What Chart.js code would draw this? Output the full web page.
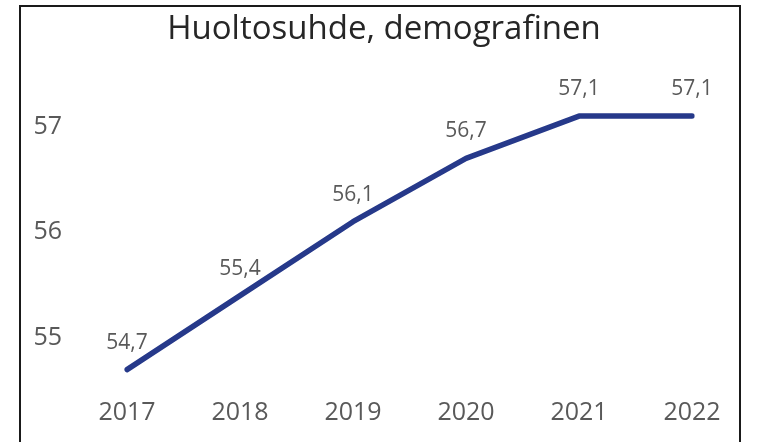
<!DOCTYPE html>
<html>
<head>
<meta charset="utf-8">
<script src="https://cdn.jsdelivr.net/npm/chart.js@4.4.1/dist/chart.umd.min.js"></script>
<style>
  html, body { margin: 0; padding: 0; background: #ffffff; }
  #wrap { position: relative; width: 758px; height: 442px; overflow: hidden; }
  #frame { position: absolute; left: 19px; top: 5px; width: 722px; height: 460px; border: 2px solid #1a1a1a; box-sizing: border-box; }
  canvas { position: absolute; left: 0; top: 0; }
</style>
</head>
<body>
<div id="wrap">
  <div id="frame"></div>
  <canvas id="chart" width="758" height="442"></canvas>
</div>
<script>
const years = ['2017', '2018', '2019', '2020', '2021', '2022'];
const ratio = [54.7, 55.4, 56.1, 56.7, 57.1, 57.1];
const yTicks = [55, 56, 57];

const FONT = "'Open Sans', 'Noto Sans', sans-serif";
const GREY = '#595959';

// Writes each value above its point, with a decimal comma
const valueLabels = {
  id: 'valueLabels',
  afterDatasetsDraw(chart) {
    const ctx = chart.ctx;
    const meta = chart.getDatasetMeta(0);
    ctx.save();
    ctx.font = '21px ' + FONT;
    ctx.fillStyle = GREY;
    ctx.textAlign = 'center';
    ctx.textBaseline = 'middle';
    meta.data.forEach((pt, i) => {
      const txt = ratio[i].toFixed(1).replace('.', ',');
      ctx.fillText(txt, pt.x, pt.y - 27);
    });
    ctx.restore();
  }
};

new Chart(document.getElementById('chart'), {
  type: 'line',
  data: {
    labels: years,
    datasets: [{
      data: ratio,
      borderColor: '#26398a',
      borderWidth: 5.5,
      borderCapStyle: 'round',
      borderJoinStyle: 'round',
      pointRadius: 0,
      tension: 0,
      fill: false
    }]
  },
  options: {
    responsive: false,
    animation: false,
    layout: { padding: { left: 10, right: 0, top: 0, bottom: 0 } },
    plugins: {
      legend: { display: false },
      tooltip: { enabled: false },
      title: {
        display: true,
        text: 'Huoltosuhde, demografinen',
        color: '#262626',
        font: { family: FONT, size: 33, weight: 'normal' },
        lineHeight: 1.2,
        padding: { top: 10, bottom: 24.2 }
      }
    },
    scales: {
      x: {
        offset: false,
        grid: { display: false, drawTicks: false },
        border: { display: false },
        ticks: { color: GREY, font: { family: FONT, size: 25 }, padding: 2, maxRotation: 0 },
        afterFit(scale) {
          scale.height = 46;
          scale.paddingRight = 66;
        }
      },
      y: {
        min: 54.45,
        max: 57.5,
        grid: { display: false, drawTicks: false },
        border: { display: false },
        afterBuildTicks(scale) { scale.ticks = yTicks.map(v => ({ value: v })); },
        ticks: { color: GREY, font: { family: FONT, size: 25 }, padding: 65 },
        afterFit(scale) {
          scale.width = 117;
          scale.paddingTop = 0;
          scale.paddingBottom = 0;
        }
      }
    }
  },
  plugins: [valueLabels]
});
</script>
</body>
</html>
